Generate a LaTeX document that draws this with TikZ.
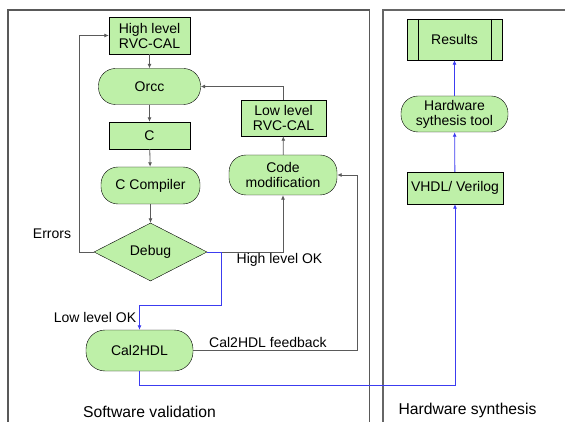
\documentclass[tikz,border=0pt]{standalone}
\usepackage{fontspec}
\setmainfont{Liberation Sans}
\usetikzlibrary{shapes.geometric,arrows.meta}
\definecolor{boxgreen}{RGB}{190,240,168}
\definecolor{linegray}{RGB}{90,90,90}
\definecolor{linkblue}{RGB}{60,60,240}
\tikzset{
  stepbox/.style={draw=black,fill=boxgreen,minimum width=#1,align=center,inner sep=1pt,font=\fontsize{14}{15}\selectfont},
  roundbox/.style={stepbox=#1,rounded corners=17pt},
  lbl/.style={font=\fontsize{14}{15}\selectfont},
  framelbl/.style={font=\fontsize{15.7}{17}\selectfont},
  flow/.style={->,draw=linegray,line width=0.8pt},
  hwflow/.style={->,draw=linkblue,line width=0.8pt},
}
\begin{document}
\begin{tikzpicture}[x=1pt,y=-1pt,>={Latex[length=4.5pt,width=4pt]}]
        \useasboundingbox (0,0) rectangle (565,422);

        % the two frames
        \draw[gray!70!black,line width=1.4pt] (8,430) -- (8,10) -- (369.5,10) -- (369.5,430);
        \draw[gray!80!black,line width=1.6pt] (383,430) -- (383,10) -- (570,10);

        % software side
        \node[stepbox=81,minimum height=37] (hl) at (149.5,35.5) {High level\\RVC-CAL};
        \node[roundbox=102,minimum height=36] (orcc) at (149.5,86.5) {Orcc};
        \node[stepbox=81,minimum height=27] (c) at (149.5,135.5) {C};
        \node[roundbox=99,minimum height=37] (ccomp) at (150.5,185.5) {C Compiler};
        \node[stepbox=113,minimum height=58,shape=diamond,aspect=1.95,inner sep=0pt] (debug) at (150.5,252) {Debug};
        \node[stepbox=85,minimum height=36] (ll) at (283.5,118) {Low level\\RVC-CAL};
        \node[roundbox=108,minimum height=40] (cmod) at (283,175) {Code\\modification};
        \node[roundbox=107,minimum height=41,rounded corners=19pt] (cal) at (139.5,350.5) {Cal2HDL};

        % hardware side
        \node[stepbox=95,minimum height=41,
              path picture={\draw (path picture bounding box.north west) ++(11,0) -- ++(0,41)
                                  (path picture bounding box.north east) ++(-11,0) -- ++(0,41);}]
              (res) at (454.5,39.5) {Results};
        \node[roundbox=107,minimum height=36] (hst) at (454.5,114) {Hardware\\sythesis tool};
        \node[stepbox=96,minimum height=32] (vhdl) at (455,188) {VHDL/ Verilog};

        % connectors
        \draw[flow] (hl) -- (orcc);
        \draw[flow] (orcc) -- (c);
        \draw[flow] (c) -- (ccomp);
        \draw[flow] (ccomp) -- (debug.north);
        \draw[flow] (debug.west) -- ++(-14,0) |- (hl.west);
        \draw[flow] (debug.east) -| (cmod.south);
        \draw[flow] (cmod) -- (ll);
        \draw[flow] (ll.north) |- (orcc.east);
        \draw[hwflow] (debug.east) -- ++(14,0) -- ++(0,53) -| (cal.north);
        \draw[flow] (cal.east) -- ++(164,0) |- (cmod.east);
        \draw[hwflow] (cal.south) -- ++(0,14) -| (vhdl.south);
        \draw[hwflow] (vhdl) -- (hst);
        \draw[hwflow] (hst) -- (res);

        % labels
        \node[lbl] (errlbl) at (52,234) {Errors};
        \node[lbl] (hiok) at (279.5,260) {High level OK};
        \node[lbl] (lowok) at (95,317) {Low level OK};
        \node[lbl] (fback) at (268,342) {Cal2HDL feedback};
        \node[framelbl] (swlbl) at (149.5,412) {Software validation};
        \node[framelbl] (hwlbl) at (467.5,410) {Hardware synthesis};
\end{tikzpicture}
\end{document}
